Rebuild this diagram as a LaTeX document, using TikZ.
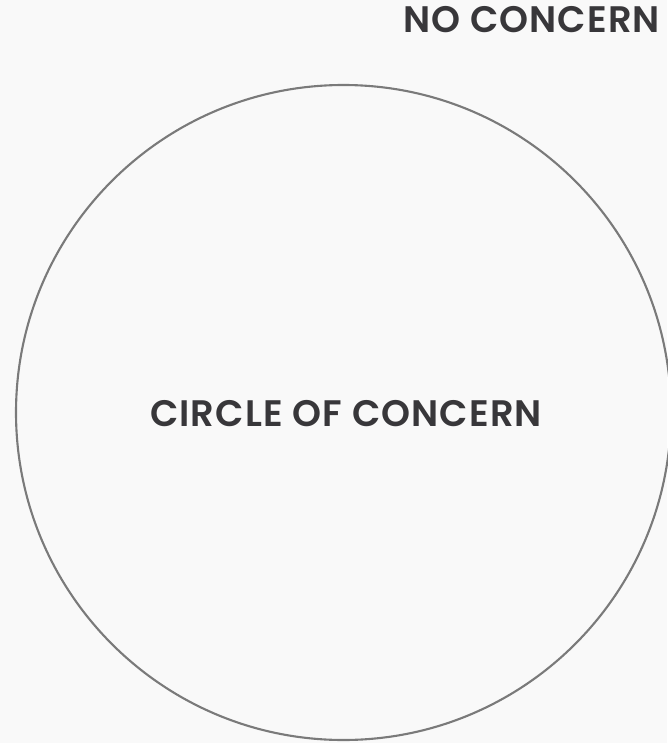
\documentclass[tikz,border=0pt]{standalone}
\usepackage{fontspec}
\setmainfont{Poppins}[BoldFont={* SemiBold},LetterSpace=3]
\definecolor{bgcol}{HTML}{F9F9F9}
\definecolor{ringcol}{HTML}{7A7A7A}
\definecolor{labelcol}{HTML}{38373A}
\tikzset{
  ringlabel/.style={text=labelcol,font=\fontsize{21}{24}\selectfont\bfseries,inner sep=0pt}
}
\begin{document}
\begin{tikzpicture}[x=0.02cm,y=-0.02cm,line width=1.1pt]
% background
\fill[bgcol] (0,0) rectangle (667,743);
\useasboundingbox (0,0) rectangle (667,743);
% circle
\node[circle,draw=ringcol,line width=1.2pt,minimum size=655*0.02cm,inner sep=0pt] (concern) at (343.5,412.5) {};
\node[ringlabel] (inside) at (346,414) {CIRCLE OF CONCERN};
% outside
\node[ringlabel,anchor=east] (outside) at (661,20) {NO CONCERN};
\end{tikzpicture}
\end{document}
